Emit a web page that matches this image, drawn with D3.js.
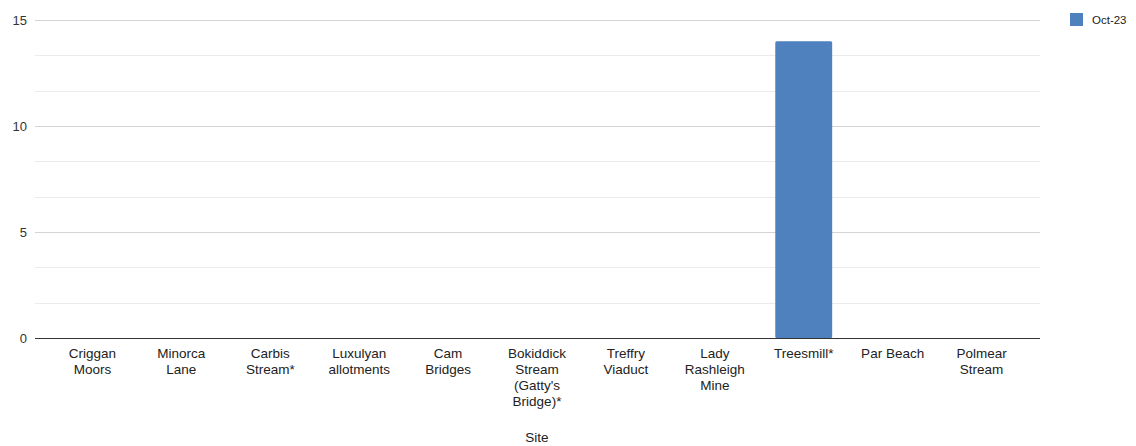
<!DOCTYPE html>
<html>
<head>
<meta charset="utf-8">
<script src="https://cdn.jsdelivr.net/npm/d3@7"></script>
<style>
  html, body { margin: 0; padding: 0; background: #fff; }
  svg { display: block; font-family: "Liberation Sans", Arial, sans-serif; }
</style>
</head>
<body>
<svg id="chart" width="1136" height="446"></svg>
<script>
// Site names (line breaks as shown under the axis)
const sites = [
  ["Criggan", "Moors"],
  ["Minorca", "Lane"],
  ["Carbis", "Stream*"],
  ["Luxulyan", "allotments"],
  ["Cam", "Bridges"],
  ["Bokiddick", "Stream", "(Gatty's", "Bridge)*"],
  ["Treffry", "Viaduct"],
  ["Lady", "Rashleigh", "Mine"],
  ["Treesmill*"],
  ["Par Beach"],
  ["Polmear", "Stream"]
];
const seriesName = "Oct-23";
const values = [0, 0, 0, 0, 0, 0, 0, 0, 14, 0, 0];
const yTicks = [0, 5, 10, 15];
const xTitle = "Site";

const svg = d3.select("#chart");
const plot = { left: 35, right: 1040, top: 20, bottom: 338 };
const barColor = "#4e81bd";

const names = sites.map(s => s.join(" "));
const x = d3.scaleBand().domain(names).range([48, 1026]).padding(0);
const y = d3.scaleLinear().domain([0, 15]).range([plot.bottom, plot.top]);

// minor gridlines (every 5/3) and major gridlines
const minor = d3.range(0, 15.001, 5 / 3);
svg.append("g").selectAll("line").data(minor).join("line")
  .attr("x1", plot.left).attr("x2", plot.right)
  .attr("y1", d => Math.round(y(d)) + 0.5).attr("y2", d => Math.round(y(d)) + 0.5)
  .attr("stroke", "#ebebeb").attr("stroke-width", 1);
svg.append("g").selectAll("line").data(yTicks.filter(d => d > 0)).join("line")
  .attr("x1", plot.left).attr("x2", plot.right)
  .attr("y1", d => Math.round(y(d)) + 0.5).attr("y2", d => Math.round(y(d)) + 0.5)
  .attr("stroke", "#d4d4d4").attr("stroke-width", 1);

// y axis labels
const yAxis = d3.axisLeft(y).tickValues(yTicks).tickSize(0).tickPadding(0);
const gy = svg.append("g").attr("transform", `translate(${plot.left - 8},0)`).call(yAxis);
gy.select(".domain").remove();
gy.selectAll("text").attr("font-size", 13).attr("fill", "#333")
  .attr("font-family", "Liberation Sans, Arial, sans-serif");

// bars
const bw = x.step() * 0.64;
svg.append("g").selectAll("rect").data(values.map((v, i) => ({ v, name: names[i] })))
  .join("rect")
  .attr("x", d => x(d.name) + x.step() / 2 - bw / 2)
  .attr("width", bw)
  .attr("y", d => y(d.v))
  .attr("height", d => y(0) - y(d.v))
  .attr("rx", 1.5)
  .attr("fill", barColor);

// baseline
svg.append("line")
  .attr("x1", plot.left).attr("x2", plot.right)
  .attr("y1", plot.bottom + 0.5).attr("y2", plot.bottom + 0.5)
  .attr("stroke", "#333").attr("stroke-width", 1);

// x axis labels
const xAxis = d3.axisBottom(x).tickSize(0).tickFormat(() => "");
const gx = svg.append("g").attr("transform", `translate(0,${plot.bottom})`).call(xAxis);
gx.select(".domain").remove();
gx.selectAll(".tick").each(function (d, i) {
  const t = d3.select(this).append("text")
    .attr("text-anchor", "middle")
    .attr("font-size", 13.5)
    .attr("fill", "#222");
  sites[i].forEach((line, k) => {
    t.append("tspan").attr("x", 0).attr("y", 19.5 + k * 16).text(line);
  });
});

// axis title
svg.append("text")
  .attr("x", 537)
  .attr("y", 442)
  .attr("text-anchor", "middle")
  .attr("font-size", 13.5)
  .attr("fill", "#222")
  .text(xTitle);

// legend
const lg = svg.append("g").attr("transform", "translate(1070,13)");
lg.append("rect").attr("width", 13).attr("height", 13).attr("fill", barColor);
lg.append("text").attr("x", 22).attr("y", 10.5).attr("font-size", 11.5).attr("fill", "#222").text(seriesName);
</script>
</body>
</html>
